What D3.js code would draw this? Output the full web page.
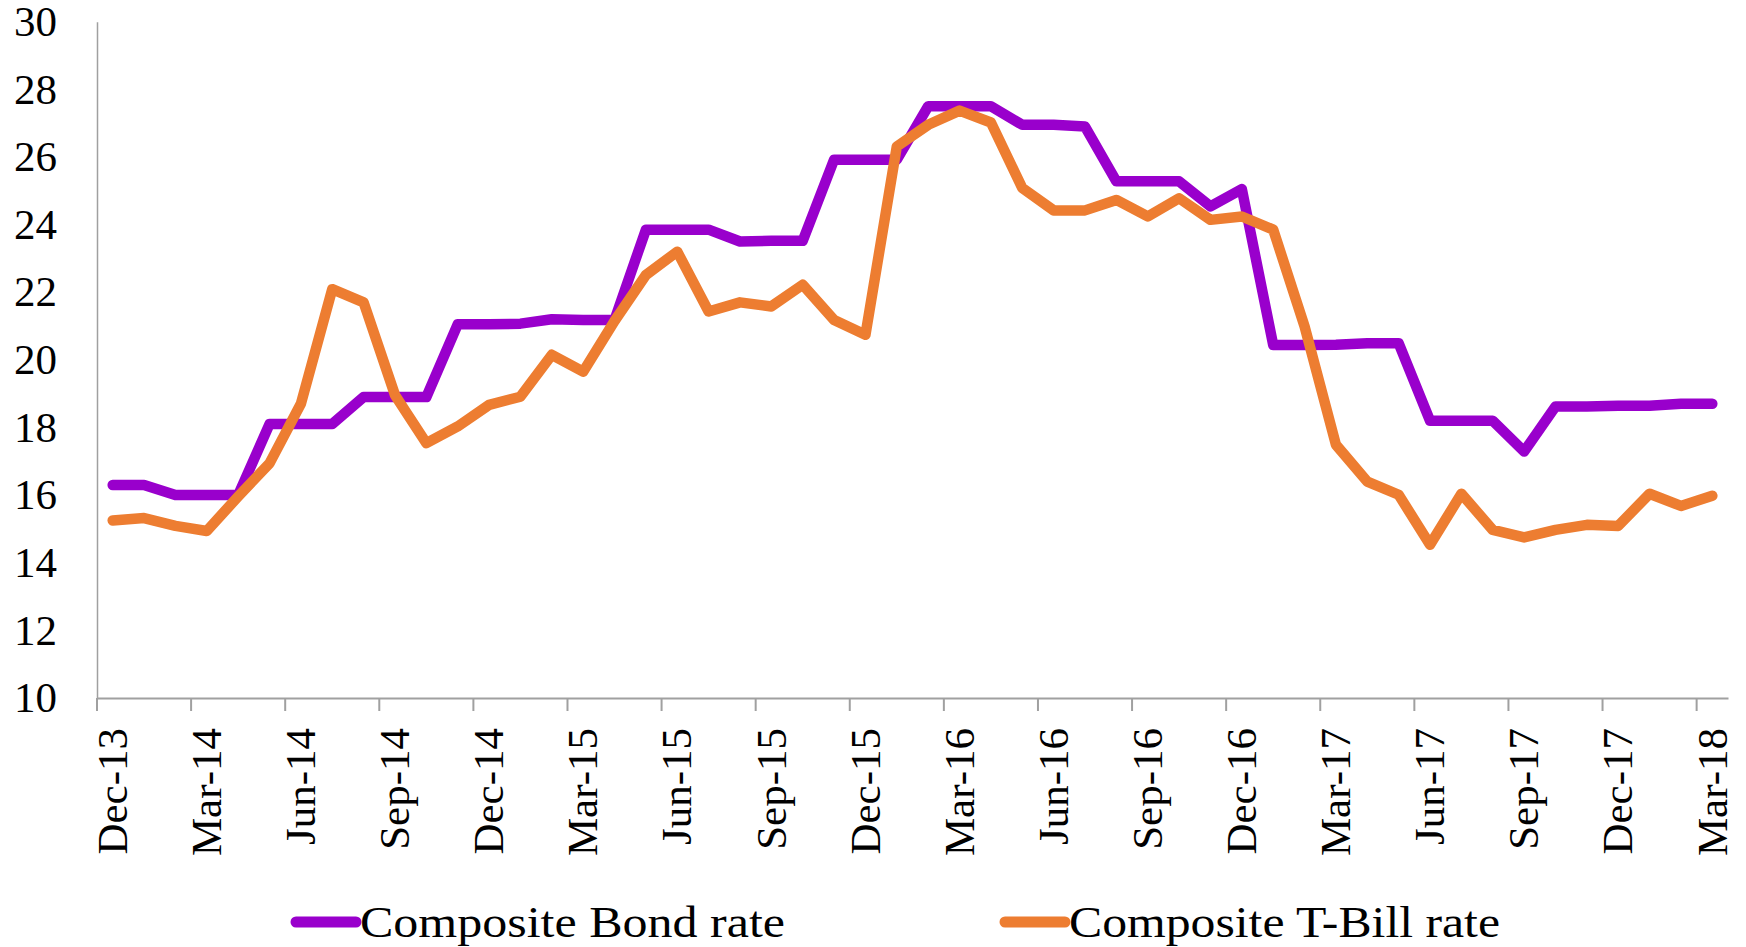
<!DOCTYPE html>
<html>
<head>
<meta charset="utf-8">
<script src="https://cdn.jsdelivr.net/npm/d3@7"></script>
<style>
  body { margin: 0; background: #fff; }
  svg { display: block; }
  text { font-family: "Liberation Serif", "Times New Roman", serif; fill: #000; }
</style>
</head>
<body>
<div id="chart-area"></div>
<script>
const months = ["Dec-13", "Jan-14", "Feb-14", "Mar-14", "Apr-14", "May-14", "Jun-14", "Jul-14", "Aug-14",
  "Sep-14", "Oct-14", "Nov-14", "Dec-14", "Jan-15", "Feb-15", "Mar-15", "Apr-15", "May-15", "Jun-15",
  "Jul-15", "Aug-15", "Sep-15", "Oct-15", "Nov-15", "Dec-15", "Jan-16", "Feb-16", "Mar-16", "Apr-16",
  "May-16", "Jun-16", "Jul-16", "Aug-16", "Sep-16", "Oct-16", "Nov-16", "Dec-16", "Jan-17", "Feb-17",
  "Mar-17", "Apr-17", "May-17", "Jun-17", "Jul-17", "Aug-17", "Sep-17", "Oct-17", "Nov-17", "Dec-17",
  "Jan-18", "Feb-18", "Mar-18"];

const bondRate = [16.3, 16.3, 16.0, 16.0, 16.0, 18.1, 18.1, 18.1, 18.9, 18.9, 18.9, 21.05, 21.05, 21.07,
  21.2, 21.18, 21.18, 23.85, 23.85, 23.85, 23.5, 23.52, 23.52, 25.92, 25.92, 25.92, 27.5, 27.5, 27.5,
  26.95, 26.95, 26.9, 25.28, 25.28, 25.28, 24.54, 25.05, 20.44, 20.44, 20.45, 20.49, 20.49, 18.2, 18.2,
  18.2, 17.29, 18.62, 18.62, 18.64, 18.64, 18.7, 18.7];

const tbillRate = [15.25, 15.32, 15.09, 14.94, 15.96, 16.94, 18.7, 22.09, 21.7, 18.96, 17.54, 18.03, 18.67,
  18.91, 20.15, 19.65, 21.15, 22.51, 23.2, 21.43, 21.7, 21.58, 22.22, 21.18, 20.74, 26.31, 26.95, 27.37,
  27.02, 25.08, 24.42, 24.42, 24.73, 24.24, 24.78, 24.14, 24.24, 23.85, 20.99, 17.49, 16.4, 16.01, 14.53,
  16.04, 14.97, 14.75, 14.97, 15.12, 15.09, 16.04, 15.68, 15.98];

const yTicks = [10, 12, 14, 16, 18, 20, 22, 24, 26, 28, 30];
const xTickLabels = months.filter((m, i) => i % 3 === 0);

const seriesNames = ["Composite Bond rate", "Composite T-Bill rate"];
const seriesColors = ["#9900cc", "#ed7d31"];

const width = 1746;
const height = 947;
const margin = { top: 21.7, left: 97, right: 18, bottom: 249 };

const svg = d3.select("#chart-area")
              .append("svg")
              .attr("width", width)
              .attr("height", height);

const x = d3.scaleBand()
            .domain(months)
            .range([margin.left, width - margin.right])
            .padding(0);

const y = d3.scaleLinear()
            .domain([10, 30])
            .range([height - margin.bottom, margin.top]);

const axisColor = "#a0a0a0";

// y axis: line + labels, no tick marks
const yAxis = svg.append("g")
   .attr("transform", "translate(" + margin.left + ",0)")
   .call(d3.axisLeft(y).tickValues(yTicks).tickSize(0).tickPadding(40).tickFormat(d3.format("d")));
yAxis.select(".domain").attr("stroke", axisColor).attr("stroke-width", 1.5);
yAxis.selectAll("text")
     .attr("font-size", 43)
     .attr("font-family", "Liberation Serif, serif")
     .attr("fill", "#000");

// x axis: labels at category centres, ticks at band starts
const xAxis = svg.append("g")
   .attr("transform", "translate(0," + (height - margin.bottom) + ")")
   .call(d3.axisBottom(x).tickValues(xTickLabels).tickSize(0).tickSizeOuter(0));
xAxis.select(".domain").attr("stroke", axisColor).attr("stroke-width", 2);
xAxis.selectAll("text")
     .attr("font-size", 43)
     .attr("font-family", "Liberation Serif, serif")
     .attr("fill", "#000")
     .attr("text-anchor", "end")
     .attr("transform", "translate(0,30) rotate(-90)")
     .attr("x", 0)
     .attr("y", 0)
     .attr("dy", "0.33em");

xAxis.selectAll(".tick-mark")
     .data(xTickLabels)
     .enter()
     .append("line")
     .attr("class", "tick-mark")
     .attr("x1", d => x(d))
     .attr("x2", d => x(d))
     .attr("y1", 0)
     .attr("y2", 13)
     .attr("stroke", axisColor)
     .attr("stroke-width", 2);

// lines
const line = d3.line()
               .x((d, i) => x(months[i]) + x.bandwidth() / 2)
               .y(d => y(d));

[bondRate, tbillRate].forEach((values, k) => {
  svg.append("path")
     .datum(values)
     .attr("d", line)
     .attr("fill", "none")
     .attr("stroke", seriesColors[k])
     .attr("stroke-width", 10.5)
     .attr("stroke-linejoin", "round")
     .attr("stroke-linecap", "round");
});

// legend
const legendX = [296, 1005];
const legend = svg.append("g");
seriesNames.forEach((name, k) => {
  legend.append("line")
        .attr("x1", legendX[k]).attr("x2", legendX[k] + 60)
        .attr("y1", 922).attr("y2", 922)
        .attr("stroke", seriesColors[k])
        .attr("stroke-width", 11)
        .attr("stroke-linecap", "round");
  legend.append("text")
        .attr("x", legendX[k] + 64)
        .attr("y", 937)
        .attr("font-size", 45)
        .attr("textLength", k === 0 ? 425 : 431)
        .attr("lengthAdjust", "spacingAndGlyphs")
        .text(name);
});
</script>
</body>
</html>
